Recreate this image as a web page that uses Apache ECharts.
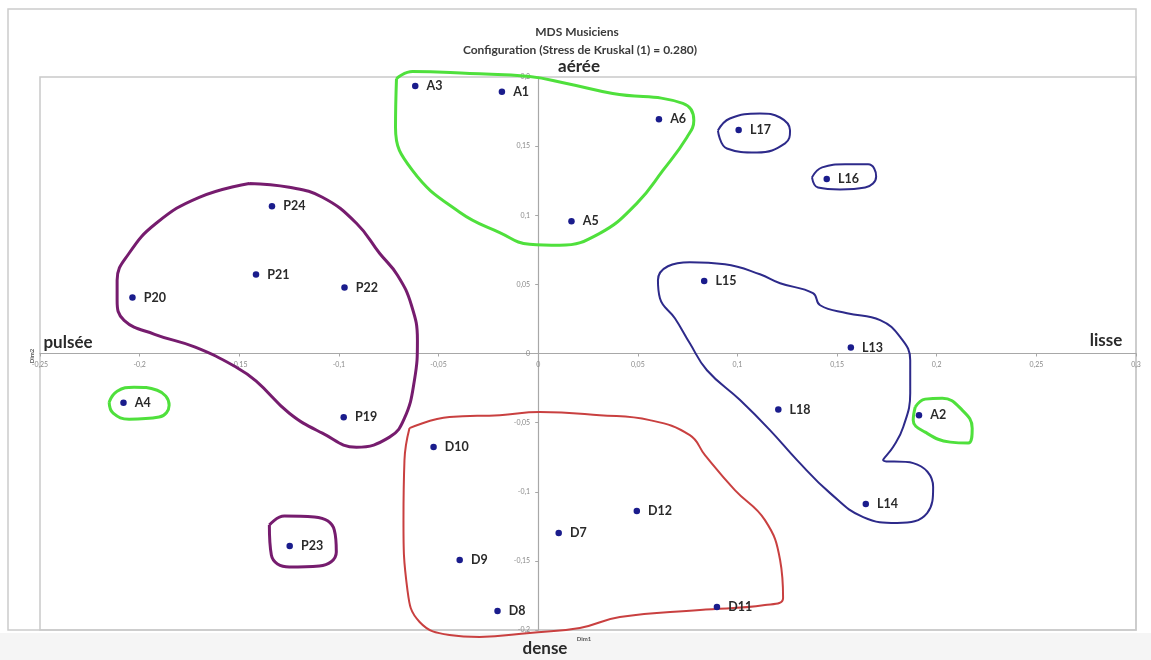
<!DOCTYPE html>
<html>
<head>
<meta charset="utf-8">
<script src="https://cdn.jsdelivr.net/npm/echarts@6/dist/echarts.min.js"></script>
<style>html,body{margin:0;padding:0;background:#fff;}#c{width:1151px;height:660px;}</style>
</head>
<body>
<div id="c"></div>
<script>
// ---- data ----
const pointNames = ['A1','A2','A3','A4','A5','A6','D7','D8','D9','D10','D11','D12',
  'L13','L14','L15','L16','L17','L18','P19','P20','P21','P22','P23','P24'];
const dim1 = [-0.0182, 0.1911, -0.0617, -0.2081, 0.0167, 0.0606, 0.0103, -0.0204, -0.0394, -0.0525, 0.0897, 0.0495,
  0.1569, 0.1644, 0.0833, 0.1448, 0.1006, 0.1205, -0.0976, -0.2036, -0.1416, -0.0972, -0.1247, -0.1336];
const dim2 = [0.1893, -0.0446, 0.1934, -0.0357, 0.0956, 0.1695, -0.1298, -0.1862, -0.1494, -0.0677, -0.1833, -0.1139,
  0.0043, -0.1089, 0.0525, 0.1262, 0.1616, -0.0405, -0.0462, 0.0405, 0.0571, 0.0477, -0.1392, 0.1066];

const xTickMin = -0.25, xTickMax = 0.3, xTickStep = 0.05;
const yTickMin = -0.2, yTickMax = 0.2, yTickStep = 0.05;

// hand-drawn group outlines (data units)
const outlineAeree = [[-0.0711,0.1989],[-0.0631,0.2040],[-0.0344,0.2025],[-0.0043,0.2003],[0.0143,0.1953],[0.0374,0.1881],
  [0.0726,0.1809],[0.0781,0.1686],[0.0746,0.1563],[0.0626,0.1324],[0.0495,0.1086],[0.0309,0.0869],[0.0108,0.0783],
  [-0.0043,0.0790],[-0.0193,0.0875],[-0.0394,0.1022],[-0.0631,0.1324],[-0.0716,0.1635],[-0.0711,0.1989]];
const outlinePulsee = [[-0.1450,0.1230],[-0.1249,0.1202],[-0.1083,0.1130],[-0.0912,0.0942],[-0.0796,0.0725],[-0.0706,0.0566],
  [-0.0636,0.0349],[-0.0606,0.0096],[-0.0621,-0.0193],[-0.0671,-0.0468],[-0.0746,-0.0605],[-0.0912,-0.0678],
  [-0.1083,-0.0576],[-0.1249,-0.0432],[-0.1415,-0.0200],[-0.1515,-0.0099],[-0.1721,0.0046],[-0.1925,0.0139],
  [-0.2078,0.0240],[-0.2113,0.0385],[-0.2113,0.0530],[-0.2053,0.0725],[-0.1917,0.0942],[-0.1701,0.1130],[-0.1450,0.1230]];
const outlineLisse = [[0.0761,0.0660],[0.0937,0.0645],[0.1113,0.0573],[0.1214,0.0508],[0.1379,0.0436],[0.1415,0.0349],
  [0.1550,0.0291],[0.1716,0.0241],[0.1817,0.0118],[0.1867,-0.0048],[0.1867,-0.0287],[0.1832,-0.0532],[0.1781,-0.0677],
  [0.1731,-0.0771],[0.1882,-0.0793],[0.1982,-0.0966],[0.1952,-0.1154],[0.1801,-0.1226],[0.1631,-0.1183],
  [0.1465,-0.1010],[0.1299,-0.0771],[0.1163,-0.0554],[0.1013,-0.0337],[0.0847,-0.0121],[0.0761,0.0074],
  [0.0686,0.0255],[0.0611,0.0400],[0.0601,0.0530],[0.0651,0.0631],[0.0761,0.0660]];
const outlineDense = [[-0.0646,-0.0540],[-0.0445,-0.0460],[-0.0193,-0.0446],[0.0008,-0.0424],[0.0309,-0.0446],[0.0560,-0.0482],
  [0.0761,-0.0591],[0.0837,-0.0735],[0.0987,-0.0988],[0.1138,-0.1205],[0.1214,-0.1494],[0.1229,-0.1768],[0.1138,-0.1819],
  [0.0812,-0.1855],[0.0410,-0.1906],[0.0209,-0.1985],[-0.0043,-0.2021],[-0.0294,-0.2050],[-0.0445,-0.2036],
  [-0.0595,-0.1942],[-0.0656,-0.1711],[-0.0676,-0.1205],[-0.0671,-0.0771],[-0.0646,-0.0540]];
const outlineL17 = [[0.0902,0.1613],[0.0962,0.1700],[0.1113,0.1736],[0.1214,0.1707],[0.1264,0.1613],[0.1239,0.1520],
  [0.1098,0.1454],[0.0947,0.1483],[0.0902,0.1613]];
const outlineL16 = [[0.1374,0.1274],[0.1425,0.1346],[0.1540,0.1368],[0.1656,0.1368],[0.1696,0.1281],[0.1641,0.1201],
  [0.1515,0.1187],[0.1404,0.1201],[0.1374,0.1274]];
const outlineA4 = [[-0.2153,-0.0352],[-0.2113,-0.0273],[-0.2028,-0.0244],[-0.1912,-0.0266],[-0.1852,-0.0374],
  [-0.1902,-0.0460],[-0.2053,-0.0475],[-0.2133,-0.0432],[-0.2153,-0.0352]];
const outlineP23 = [[-0.1349,-0.1241],[-0.1274,-0.1176],[-0.1123,-0.1183],[-0.1023,-0.1277],[-0.1013,-0.1436],
  [-0.1098,-0.1537],[-0.1249,-0.1544],[-0.1339,-0.1458],[-0.1349,-0.1241]];
const outlineA2 = [[0.1892,-0.0388],[0.1942,-0.0330],[0.2028,-0.0323],[0.2128,-0.0410],[0.2178,-0.0540],[0.2158,-0.0648],
  [0.2068,-0.0641],[0.1942,-0.0569],[0.1882,-0.0482],[0.1892,-0.0388]];

// ---- chart ----
const GREEN = '#4fe03c', PURPLE = '#761c6e', BLUE = '#2d2a8a', RED = '#c94040';
const FONT = 'Lato, "Liberation Sans", sans-serif';
const GRID = { left: 40, top: 77, right: 15, bottom: 30 };
const W = 1151, H = 660;
const plotW = W - GRID.left - GRID.right, plotH = H - GRID.top - GRID.bottom;
// shift the labelled axes so they sit on the zero lines (as in the reference)
const xAxisOffset = -plotH * (0 - yTickMin) / (yTickMax - yTickMin);
const yAxisOffset = -plotW * (0 - xTickMin) / (xTickMax - xTickMin);

function outline(data, color, width) {
  return { type: 'line', data: data, smooth: 0.45, symbol: 'none', clip: false, silent: true,
    lineStyle: { color: color, width: width }, z: 3 };
}
const fmt = v => String(Math.round(v * 100) / 100).replace('.', ',');

const chart = echarts.init(document.getElementById('c'), null, { renderer: 'canvas' });
chart.setOption({
  animation: false,
  backgroundColor: '#ffffff',
  grid: Object.assign({ show: true, borderColor: '#c9c9c9', borderWidth: 1.5, backgroundColor: 'transparent' }, GRID),
  xAxis: {
    type: 'value', min: xTickMin, max: xTickMax, interval: xTickStep, position: 'bottom', offset: xAxisOffset,
    axisLine: { onZero: false, lineStyle: { color: '#a8a8a8', width: 1.2 } },
    axisTick: { show: true, length: 3, lineStyle: { color: '#a8a8a8' } },
    axisLabel: { fontSize: 7, color: '#8a8a8a', margin: 8, formatter: fmt, fontFamily: FONT, showMinLabel: true, showMaxLabel: true },
    splitLine: { show: false }
  },
  yAxis: {
    type: 'value', min: yTickMin, max: yTickMax, interval: yTickStep, position: 'left', offset: yAxisOffset,
    axisLine: { onZero: false, lineStyle: { color: '#a8a8a8', width: 1.2 } },
    axisTick: { show: true, length: 3, lineStyle: { color: '#a8a8a8' } },
    axisLabel: { fontSize: 7, color: '#8a8a8a', margin: 8, formatter: fmt, fontFamily: FONT, showMinLabel: true, showMaxLabel: true },
    splitLine: { show: false }
  },
  graphic: [
    { type: 'rect', shape: { x: 0, y: 633, width: 1151, height: 27 }, style: { fill: '#f5f5f5' }, z: -10, silent: true },
    { type: 'rect', shape: { x: 8, y: 9, width: 1128, height: 621 }, style: { fill: 'none', stroke: '#cccccc', lineWidth: 1.5 }, z: -5, silent: true },
    { type: 'text', x: 577, y: 32, style: { text: 'MDS Musiciens', font: 'bold 12px ' + FONT, fill: '#3a3a3a', textAlign: 'center', textVerticalAlign: 'middle' } },
    { type: 'text', x: 580, y: 50, style: { text: 'Configuration (Stress de Kruskal (1) = 0.280)', font: 'bold 12px ' + FONT, fill: '#3a3a3a', textAlign: 'center', textVerticalAlign: 'middle' } },
    { type: 'text', x: 579, y: 67, z: 10, style: { text: 'aérée', font: 'bold 17px ' + FONT, fill: '#2a2a2a', textAlign: 'center', textVerticalAlign: 'middle' } },
    { type: 'text', x: 545, y: 649, z: 10, style: { text: 'dense', font: 'bold 17px ' + FONT, fill: '#2a2a2a', textAlign: 'center', textVerticalAlign: 'middle' } },
    { type: 'text', x: 68, y: 343, z: 10, style: { text: 'pulsée', font: 'bold 17px ' + FONT, fill: '#2a2a2a', textAlign: 'center', textVerticalAlign: 'middle' } },
    { type: 'text', x: 1106, y: 341, z: 10, style: { text: 'lisse', font: 'bold 17px ' + FONT, fill: '#2a2a2a', textAlign: 'center', textVerticalAlign: 'middle' } },
    { type: 'text', x: 584, y: 639, z: 10, style: { text: 'Dim1', font: 'bold 6px ' + FONT, fill: '#555', textAlign: 'center', textVerticalAlign: 'middle' } },
    { type: 'text', x: 32, y: 356, rotation: Math.PI / 2, z: 10, style: { text: 'Dim2', font: 'bold 6px ' + FONT, fill: '#555', textAlign: 'center', textVerticalAlign: 'middle' } }
  ],
  series: [
    outline(outlineAeree, GREEN, 3),
    outline(outlinePulsee, PURPLE, 3),
    outline(outlineLisse, BLUE, 2),
    outline(outlineDense, RED, 2),
    outline(outlineL17, BLUE, 2),
    outline(outlineL16, BLUE, 2),
    outline(outlineA4, GREEN, 3),
    outline(outlineP23, PURPLE, 3),
    outline(outlineA2, GREEN, 3),
    {
      type: 'scatter', z: 5,
      data: pointNames.map((n, i) => ({ name: n, value: [dim1[i], dim2[i]] })),
      symbol: 'circle', symbolSize: 6.5,
      itemStyle: { color: '#1a1c8c', opacity: 1 },
      label: { show: true, position: 'right', distance: 8, formatter: p => p.name,
        fontFamily: FONT, fontWeight: 'bold', fontSize: 12.5, color: '#2a2a2a' }
    }
  ]
});
</script>
</body>
</html>
